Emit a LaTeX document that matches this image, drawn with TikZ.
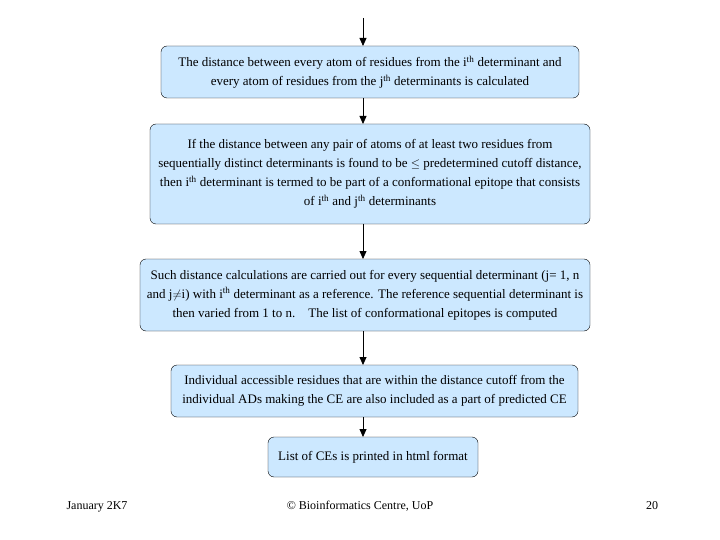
\documentclass[tikz,border=0pt]{standalone}
\usepackage{fontspec}
\setmainfont{Liberation Serif}
\usetikzlibrary{arrows.meta}
\definecolor{boxblue}{RGB}{204,232,255}
\begin{document}
\begin{tikzpicture}[x=1pt,y=-1pt,
  box/.style={draw=black,fill=boxblue,rounded corners=6pt,align=center,inner sep=1pt,font=\fontsize{13}{19}\selectfont},
  arr/.style={-{Triangle[length=8pt,width=7pt]},thick},
  foot/.style={font=\fontsize{12}{14}\selectfont,anchor=base}]
\useasboundingbox (0,0) rectangle (720,540);
\node[box,minimum width=418pt,minimum height=52pt] (b1) at (370,72)
 {The distance between every atom of residues from the i\textsuperscript{th} determinant and\\every atom of residues from the j\textsuperscript{th} determinants is calculated};
\node[box,minimum width=440pt,minimum height=100pt] (b2) at (370,174)
 {If the distance between any pair of atoms of at least two residues from\\sequentially distinct determinants is found to be $\leq$ predetermined cutoff distance,\\then i\textsuperscript{th} determinant is termed to be part of a conformational epitope that consists\\of i\textsuperscript{th} and j\textsuperscript{th} determinants};
\node[box,minimum width=450pt,minimum height=72pt] (b3) at (365,295)
 {Such distance calculations are carried out for every sequential determinant (j= 1, n\\and j$\neq$i) with i\textsuperscript{th} determinant as a reference. The reference sequential determinant is\\then varied from 1 to n.\quad The list of conformational epitopes is computed};
\node[box,minimum width=407pt,minimum height=52pt] (b4) at (374.5,391)
 {Individual accessible residues that are within the distance cutoff from the\\individual ADs making the CE are also included as a part of predicted CE};
\node[box,minimum width=210pt,minimum height=40pt] (b5) at (373,457)
 {List of CEs is printed in html format};
\coordinate (top) at (363,18);
\draw[arr] (top) -- (363,46);
\draw[arr] (363,98) -- (363,124);
\draw[arr] (363,224) -- (363,259);
\draw[arr] (363,331) -- (363,365);
\draw[arr] (363,417) -- (363,437);
\node[foot] (f1) at (97,509) {January 2K7};
\node[foot] (f2) at (360,509) {© Bioinformatics Centre, UoP};
\node[foot] (f3) at (652,509) {20};
\end{tikzpicture}
\end{document}
